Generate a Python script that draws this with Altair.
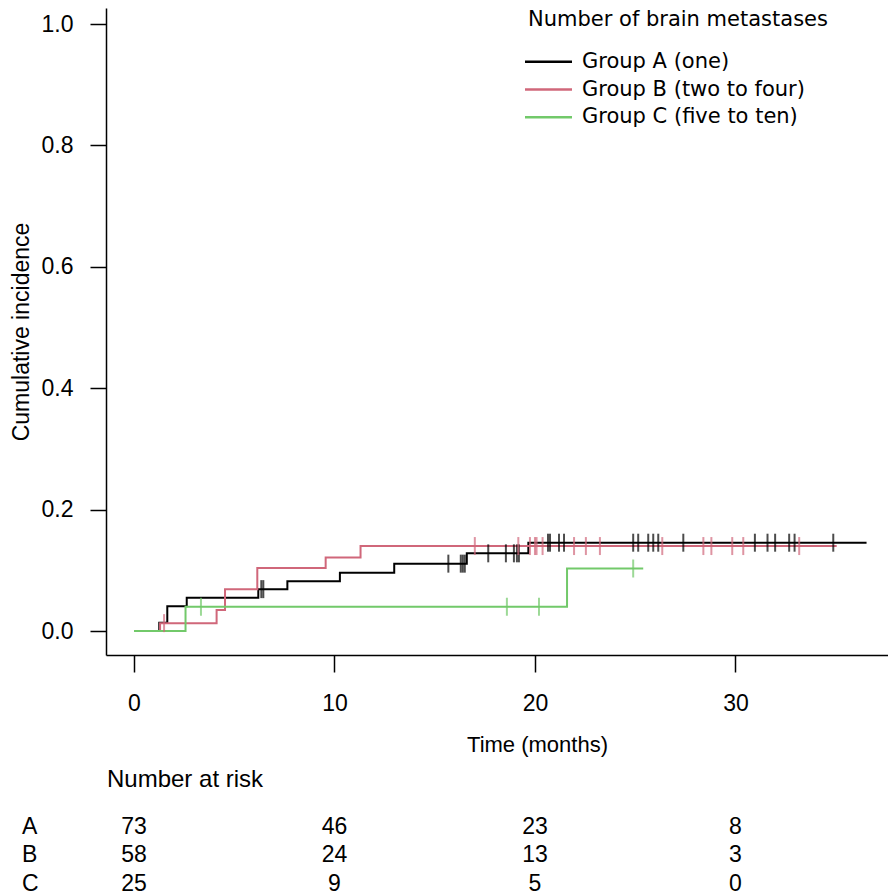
import altair as alt
import pandas as pd
import numpy as np

# ---------------- data ----------------
groups = ["Group A (one)", "Group B (two to four)", "Group C (five to ten)"]
short = ["A", "B", "C"]
legend_title = "Number of brain metastases"

a_times = [0, 1.26, 1.66, 2.63, 6.2, 7.65, 10.27, 12.98, 16.6, 19.67]
a_vals = [0, 0.0137, 0.041, 0.055, 0.069, 0.082, 0.096, 0.111, 0.128, 0.1455]
a_end = 36.54
a_cens = [6.35, 6.45, 15.68, 16.3, 16.4, 16.5, 17.67, 18.55, 18.95, 19.1, 19.2,
          20.65, 20.75, 21.2, 21.45, 24.9, 25.15, 25.65, 25.9, 26.15, 27.4,
          30.97, 31.6, 31.98, 32.68, 32.95, 34.88]

b_times = [0, 1.3, 4.12, 4.54, 6.15, 9.56, 11.3]
b_vals = [0, 0.013, 0.0345, 0.069, 0.104, 0.121, 0.140]
b_end = 35.05
b_cens = [1.5, 17.0, 19.17, 19.75, 20.0, 20.08, 20.38, 21.95, 22.54, 23.24,
          26.35, 28.4, 28.8, 29.84, 30.39, 33.18]

c_times = [0, 2.57, 21.6]
c_vals = [0, 0.04, 0.103]
c_end = 25.4
c_cens = [3.34, 18.6, 20.2, 24.9]

risk_times = [0, 10, 20, 30]
risk_a = [73, 46, 23, 8]
risk_b = [58, 24, 13, 3]
risk_c = [25, 9, 5, 0]

colors = ["#000000", "#D0677A", "#72C96A"]

# ---------------- tables ----------------
curve_rows, cens_rows = [], []
for g, t, v, e, cs in [
    (groups[0], a_times, a_vals, a_end, a_cens),
    (groups[1], b_times, b_vals, b_end, b_cens),
    (groups[2], c_times, c_vals, c_end, c_cens),
]:
    for ti, vi in zip(t, v):
        curve_rows.append({"group": g, "time": ti, "cuminc": vi})
    curve_rows.append({"group": g, "time": e, "cuminc": v[-1]})
    tt = np.array(t)
    for c in cs:
        idx = np.searchsorted(tt, c, side="right") - 1
        cens_rows.append({"group": g, "time": c, "cuminc": v[idx]})
curves = pd.DataFrame(curve_rows)
cens = pd.DataFrame(cens_rows)

risk_rows = []
for s, vals in zip(short, [risk_a, risk_b, risk_c]):
    for t, n in zip(risk_times, vals):
        risk_rows.append({"row": s, "time": t, "n": str(n)})
risk = pd.DataFrame(risk_rows)
labels_df = pd.DataFrame({"row": short})
legend_df = pd.DataFrame({"group": groups})

# ---------------- chart ----------------
FONT = "Liberation Sans"
LFONT = "DejaVu Sans"
xscale = alt.Scale(domain=[-1.397, 37.61], nice=False, zero=False)
yscale = alt.Scale(domain=[-0.0395, 1.0264], nice=False, zero=False)
cscale = alt.Scale(domain=groups, range=colors)

xaxis = alt.Axis(values=risk_times, title="Time (months)", grid=False,
                 labelFontSize=23, titleFontSize=22, tickSize=17,
                 labelPadding=20, titlePadding=19, titleX=431,
                 labelFont=FONT, titleFont=FONT,
                 titleFontWeight="normal", domainColor="#000", tickColor="#000",
                 labelColor="#000", titleColor="#000", domainWidth=1.5, tickWidth=1.5)
yaxis = alt.Axis(values=[0, 0.2, 0.4, 0.6, 0.8, 1.0], format=".1f",
                 title="Cumulative incidence", grid=False,
                 labelFontSize=23, titleFontSize=23, tickSize=16,
                 labelPadding=17, titlePadding=8, labelFont=FONT, titleFont=FONT,
                 titleFontWeight="normal", domainColor="#000", tickColor="#000",
                 labelColor="#000", titleColor="#000", domainWidth=1.5, tickWidth=1.5)

lines = alt.Chart(curves).mark_line(interpolate="step-after", strokeWidth=2).encode(
    x=alt.X("time:Q", scale=xscale, axis=xaxis),
    y=alt.Y("cuminc:Q", scale=yscale, axis=yaxis),
    color=alt.Color("group:N", scale=cscale, sort=groups, legend=None),
)
ticks = alt.Chart(cens).mark_tick(orient="vertical", size=18, thickness=2).encode(
    x=alt.X("time:Q", scale=xscale),
    y=alt.Y("cuminc:Q", scale=yscale),
    color=alt.Color("group:N", scale=cscale, sort=groups, legend=None),
)
main = alt.layer(lines, ticks)

# number-at-risk table
row_scale = alt.Scale(type="point", domain=short, range=[818.5, 875.5], padding=0)
risk_text = alt.Chart(risk).mark_text(font=FONT, fontSize=23, align="center",
                                      baseline="middle", color="#000").encode(
    x=alt.X("time:Q", scale=xscale),
    y=alt.Y("row:N", scale=row_scale, axis=None),
    text="n:N",
)
row_text = alt.Chart(labels_df).mark_text(font=FONT, fontSize=23, align="left",
                                          baseline="middle", color="#000").encode(
    x=alt.value(-84),
    y=alt.Y("row:N", scale=row_scale, axis=None),
    text="row:N",
)
nar = alt.Chart(pd.DataFrame({"t": ["Number at risk"]})).mark_text(
    font=FONT, fontSize=24, align="left", baseline="middle", color="#000").encode(
    x=alt.value(1), y=alt.value(772), text="t:N")
table = alt.layer(risk_text, row_text, nar)

# legend (drawn as marks)
leg_scale = alt.Scale(type="point", domain=groups, range=[53.7, 109.3], padding=0)
leg_rules = alt.Chart(legend_df).mark_rule(strokeWidth=2.5).encode(
    x=alt.value(419), x2=alt.value(466),
    y=alt.Y("group:N", scale=leg_scale, axis=None, sort=groups),
    color=alt.Color("group:N", scale=cscale, sort=groups, legend=None),
)
leg_text = alt.Chart(legend_df).mark_text(font=LFONT, fontSize=21, align="left",
                                          baseline="middle", color="#000").encode(
    x=alt.value(476),
    y=alt.Y("group:N", scale=leg_scale, axis=None, sort=groups),
    text="group:N",
)
leg_title = alt.Chart(pd.DataFrame({"t": [legend_title]})).mark_text(
    font=LFONT, fontSize=21, align="left", baseline="middle", color="#000").encode(
    x=alt.value(422), y=alt.value(12), text="t:N")
legend = alt.layer(leg_rules, leg_text, leg_title)

chart = alt.layer(main, table, legend).resolve_scale(
    y="independent"
).properties(
    width=782, height=647,
    autosize=alt.AutoSizeParams(type="none"),
    padding={"left": 98, "top": 0, "right": 0, "bottom": 241},
).configure_view(stroke=None)

chart.save("out.html", embed_options={"renderer": "svg", "actions": False})
